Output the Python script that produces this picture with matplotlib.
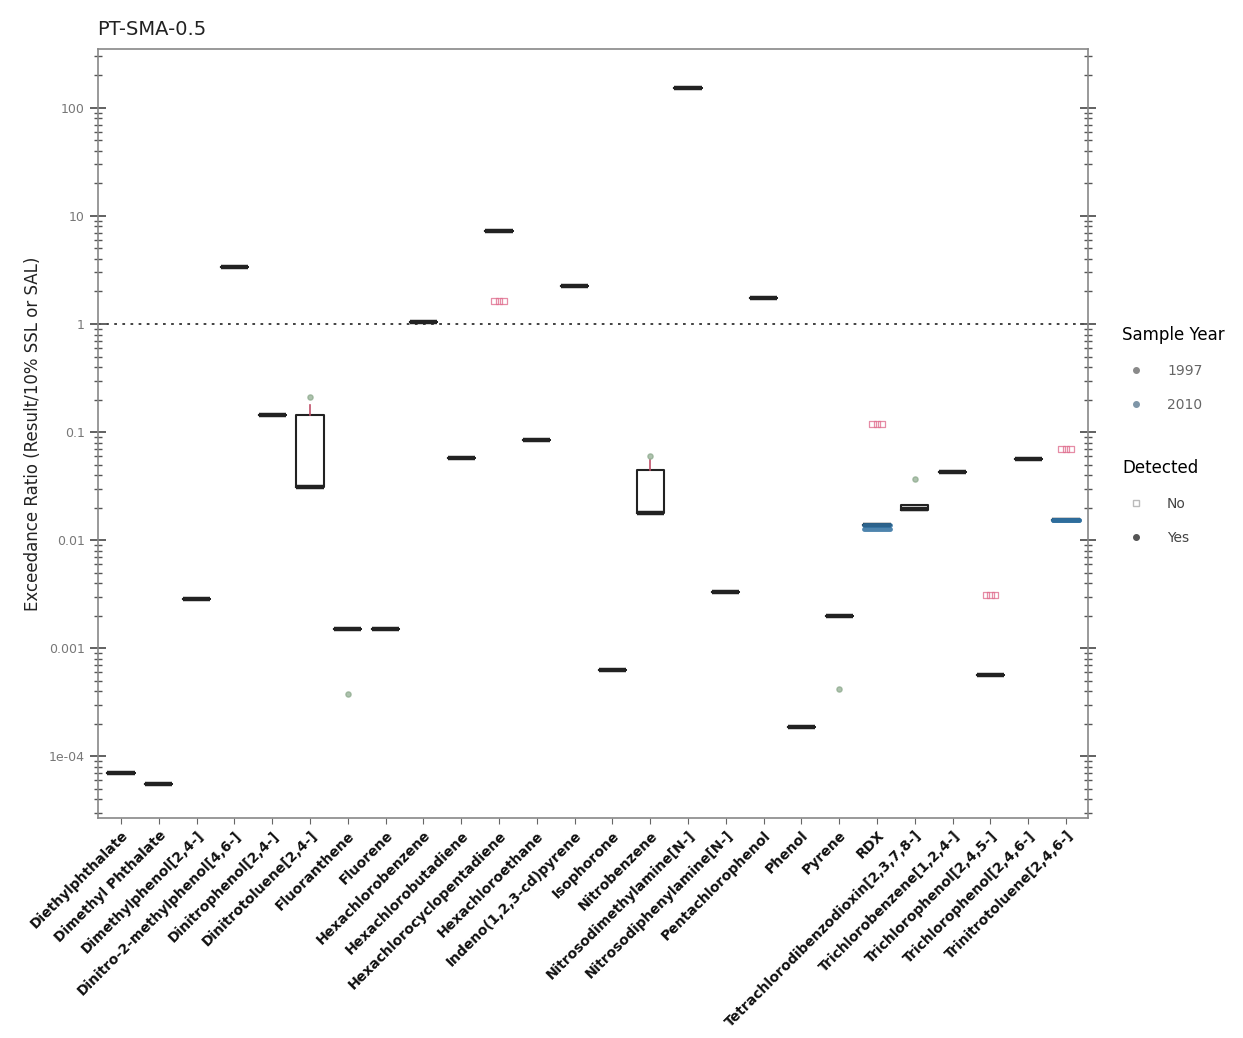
import matplotlib
matplotlib.use("Agg")
import matplotlib.pyplot as plt
from matplotlib.lines import Line2D
from matplotlib.ticker import LogLocator, FixedLocator, FixedFormatter, NullFormatter
import numpy as np

plt.rcParams['font.family'] = ['DejaVu Sans']

title = "PT-SMA-0.5"
ylabel = "Exceedance Ratio (Result/10% SSL or SAL)"

categories = [
    "Diethylphthalate", "Dimethyl Phthalate", "Dimethylphenol[2,4-]",
    "Dinitro-2-methylphenol[4,6-]", "Dinitrophenol[2,4-]", "Dinitrotoluene[2,4-]",
    "Fluoranthene", "Fluorene", "Hexachlorobenzene", "Hexachlorobutadiene",
    "Hexachlorocyclopentadiene", "Hexachloroethane", "Indeno(1,2,3-cd)pyrene",
    "Isophorone", "Nitrobenzene", "Nitrosodimethylamine[N-]",
    "Nitrosodiphenylamine[N-]", "Pentachlorophenol", "Phenol", "Pyrene", "RDX",
    "Tetrachlorodibenzodioxin[2,3,7,8-]", "Trichlorobenzene[1,2,4-]",
    "Trichlorophenol[2,4,5-]", "Trichlorophenol[2,4,6-]", "Trinitrotoluene[2,4,6-]",
]

# box statistics (detected results)
box_med = [7.1e-5, 5.6e-5, 2.85e-3, 3.37, 0.144, 0.031, 1.5e-3, 1.5e-3, 1.04, 0.0575,
           7.3, 0.084, 2.25, 6.3e-4, 0.018, 153, 3.3e-3, 1.74, 1.86e-4, 2.0e-3, 0.0138,
           0.0195, 0.0426, 5.7e-4, 0.056, 0.0153]
box_q1 = [7.1e-5, 5.6e-5, 2.85e-3, 3.37, 0.144, 0.031, 1.5e-3, 1.5e-3, 1.04, 0.0575,
          7.3, 0.084, 2.25, 6.3e-4, 0.018, 153, 3.3e-3, 1.74, 1.86e-4, 2.0e-3, 0.0138,
          0.019, 0.0426, 5.7e-4, 0.056, 0.0153]
box_q3 = [7.1e-5, 5.6e-5, 2.85e-3, 3.37, 0.144, 0.145, 1.5e-3, 1.5e-3, 1.04, 0.0575,
          7.3, 0.084, 2.25, 6.3e-4, 0.045, 153, 3.3e-3, 1.74, 1.86e-4, 2.0e-3, 0.0138,
          0.021, 0.0426, 5.7e-4, 0.056, 0.0153]
whisk_hi = [7.1e-5, 5.6e-5, 2.85e-3, 3.37, 0.144, 0.18, 1.5e-3, 1.5e-3, 1.04, 0.0575,
            7.3, 0.084, 2.25, 6.3e-4, 0.055, 153, 3.3e-3, 1.74, 1.86e-4, 2.0e-3, 0.0138,
            0.021, 0.0426, 5.7e-4, 0.056, 0.0153]
# outlier points (detected)
outliers = [[], [], [], [], [], [0.21], [3.8e-4], [], [], [], [], [], [], [], [0.06],
            [], [], [], [], [4.2e-4], [], [0.037], [], [], [], []]
# non-detected results
nondetect = [[], [], [], [], [], [], [], [], [], [], [1.63], [], [], [], [], [], [], [],
             [], [], [0.119], [], [], [3.1e-3], [], [0.07]]
# 2010 detected results
year2010 = [[], [], [], [], [], [], [], [], [], [], [], [], [], [], [], [], [], [], [],
            [], [0.0138, 0.0128], [], [], [], [], [0.0153, 0.0155]]

fig = plt.figure(figsize=(12.43, 10.38), dpi=100)
ax = fig.add_axes([0.0788, 0.2120, 0.7965, 0.7408])

pos = np.arange(1, len(categories) + 1)
stats = []
for i in range(len(categories)):
    stats.append(dict(med=box_med[i], q1=box_q1[i], q3=box_q3[i],
                      whislo=box_q1[i], whishi=whisk_hi[i], fliers=[]))
ax.bxp(stats, positions=pos, widths=0.72, showfliers=False,
       boxprops=dict(color='#222222', linewidth=1.5),
       medianprops=dict(color='#222222', linewidth=3.2),
       whiskerprops=dict(color='#c0506a', linewidth=1.2),
       capprops=dict(linewidth=0))

for i in range(len(categories)):
    x = pos[i]
    if outliers[i]:
        ax.scatter([x] * len(outliers[i]), outliers[i], s=14, color='#8aa88a', alpha=0.7, zorder=3)
    if nondetect[i]:
        for k, v in enumerate(nondetect[i]):
            for dx in (-0.12, 0.0, 0.12):
                ax.scatter([x + dx], [v], s=22, marker='s', facecolors='none',
                           edgecolors='#e07090', linewidths=0.9, alpha=0.8, zorder=3)
    if year2010[i]:
        for v in year2010[i]:
            ax.plot([x - 0.34, x + 0.34], [v, v], color='#2f6f9f', linewidth=3.5,
                    solid_capstyle='round', alpha=0.85, zorder=4)

ax.axhline(1.0, color='#333333', linestyle=(0, (1.5, 3)), linewidth=1.3, zorder=1)

ax.set_yscale('log')
ax.set_ylim(2.7e-5, 350)
ax.set_xlim(0.39, 26.58)

ax.yaxis.set_major_locator(FixedLocator([1e-4, 1e-3, 1e-2, 0.1, 1, 10, 100]))
ax.yaxis.set_major_formatter(FixedFormatter(["1e-04", "0.001", "0.01", "0.1", "1", "10", "100"]))
ax.yaxis.set_minor_locator(LogLocator(base=10, subs=np.arange(2, 10), numticks=20))
ax.yaxis.set_minor_formatter(NullFormatter())
ax.tick_params(axis='y', which='major', direction='inout', length=12, width=1.3,
               colors='#555555', labelsize=9, right=True, labelcolor='#777777')
ax.tick_params(axis='y', which='minor', direction='inout', length=6, width=1.0,
               colors='#555555', right=True)
ax.tick_params(axis='x', which='major', direction='out', length=4, colors='#666666',
               labelcolor='#111111')

ax.set_xticks(pos)
ax.set_xticklabels(categories, rotation=45, ha='right', rotation_mode='anchor',
                   fontsize=10, fontweight='bold')

for s in ax.spines.values():
    s.set_color('#888888')
    s.set_linewidth(1.2)

ax.set_ylabel(ylabel, fontsize=12, color='#222222', labelpad=5)
fig.text(0.078, 0.972, title, fontsize=14, color='#222222', ha='left', va='center')

h1 = [Line2D([], [], marker='o', linestyle='none', color='#8a8a8a', markersize=4),
      Line2D([], [], marker='o', linestyle='none', color='#7f96a8', markersize=4)]
leg1 = fig.legend(h1, ["1997", "2010"], title="Sample Year", loc='upper left',
                  bbox_to_anchor=(0.893, 0.698), frameon=False, fontsize=10,
                  title_fontsize=12, labelspacing=1.45, handletextpad=1.2,
                  alignment='left')
for t in leg1.get_texts():
    t.set_color('#666666')
h2 = [Line2D([], [], marker='s', linestyle='none', markerfacecolor='none',
             markeredgecolor='#bbbbbb', markersize=5),
      Line2D([], [], marker='o', linestyle='none', color='#555555', markersize=4)]
leg2 = fig.legend(h2, ["No", "Yes"], title="Detected", loc='upper left',
                  bbox_to_anchor=(0.893, 0.570), frameon=False, fontsize=10,
                  title_fontsize=12, labelspacing=1.45, handletextpad=1.2,
                  alignment='left')
for t in leg2.get_texts():
    t.set_color('#444444')

fig.savefig("out.png", dpi=100)
